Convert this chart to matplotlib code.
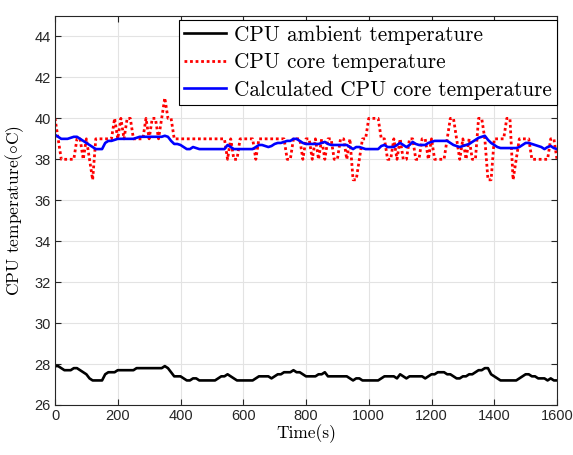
import numpy as np
import matplotlib
matplotlib.use("Agg")
import matplotlib.pyplot as plt

# Sample times (s), one reading every 10 s
time_s = np.arange(0, 1601, 10)

# CPU ambient temperature (°C)
ambient = [
    27.9, 27.9, 27.8, 27.7, 27.7, 27.7, 27.8, 27.8, 27.7, 27.6,   # 0-90
    27.5, 27.3, 27.2, 27.2, 27.2, 27.2, 27.5, 27.6, 27.6, 27.6,   # 100-190
    27.7, 27.7, 27.7, 27.7, 27.7, 27.7, 27.8, 27.8, 27.8, 27.8,   # 200-290
    27.8, 27.8, 27.8, 27.8, 27.8, 27.9, 27.8, 27.6, 27.4, 27.4,   # 300-390
    27.4, 27.3, 27.2, 27.2, 27.3, 27.3, 27.2, 27.2, 27.2, 27.2,   # 400-490
    27.2, 27.2, 27.3, 27.4, 27.4, 27.5, 27.4, 27.3, 27.2, 27.2,   # 500-590
    27.2, 27.2, 27.2, 27.2, 27.3, 27.4, 27.4, 27.4, 27.4, 27.3,   # 600-690
    27.4, 27.5, 27.5, 27.6, 27.6, 27.6, 27.7, 27.6, 27.6, 27.5,   # 700-790
    27.4, 27.4, 27.4, 27.4, 27.5, 27.5, 27.6, 27.4, 27.4, 27.4,   # 800-890
    27.4, 27.4, 27.4, 27.4, 27.3, 27.2, 27.3, 27.3, 27.2, 27.2,   # 900-990
    27.2, 27.2, 27.2, 27.2, 27.3, 27.4, 27.4, 27.4, 27.4, 27.3,   # 1000-1090
    27.5, 27.4, 27.3, 27.4, 27.4, 27.4, 27.4, 27.4, 27.3, 27.4,   # 1100-1190
    27.5, 27.5, 27.6, 27.6, 27.6, 27.5, 27.5, 27.4, 27.3, 27.3,   # 1200-1290
    27.4, 27.4, 27.5, 27.5, 27.6, 27.7, 27.7, 27.8, 27.8, 27.5,   # 1300-1390
    27.4, 27.3, 27.2, 27.2, 27.2, 27.2, 27.2, 27.2, 27.3, 27.4,   # 1400-1490
    27.5, 27.5, 27.4, 27.4, 27.3, 27.3, 27.3, 27.2, 27.3, 27.2,   # 1500-1590
    27.2,                                                         # 1600
]

# Measured CPU core temperature (°C)
core = [
    40, 39, 38, 38, 38, 38, 38, 39, 39, 38,   # 0-90
    39, 38, 37, 39, 39, 39, 39, 39, 39, 40,   # 100-190
    39, 40, 39, 40, 40, 39, 39, 39, 39, 40,   # 200-290
    39, 40, 40, 39, 40, 41, 40, 40, 39, 39,   # 300-390
    39, 39, 39, 39, 39, 39, 39, 39, 39, 39,   # 400-490
    39, 39, 39, 39, 39, 38, 39, 38, 38, 39,   # 500-590
    39, 39, 39, 39, 38, 39, 39, 39, 39, 39,   # 600-690
    39, 39, 39, 39, 38, 38, 39, 39, 39, 38,   # 700-790
    39, 39, 38, 39, 38, 39, 38, 39, 39, 38,   # 800-890
    38, 39, 39, 38, 39, 37, 37, 38, 39, 39,   # 900-990
    40, 40, 40, 40, 39, 39, 38, 38, 39, 38,   # 1000-1090
    39, 38, 38, 39, 39, 38, 38, 39, 39, 38,   # 1100-1190
    39, 38, 38, 38, 38, 39, 40, 40, 39, 38,   # 1200-1290
    39, 38, 39, 38, 38, 40, 40, 39, 37, 37,   # 1300-1390
    39, 39, 39, 39, 40, 40, 37, 38, 39, 39,   # 1400-1490
    39, 39, 38, 38, 38, 38, 38, 38, 39, 39,   # 1500-1590
    38,                                       # 1600
]

# Calculated CPU core temperature (°C)
calculated = [
    39.2, 39.1, 39.0, 39.0, 39.0, 39.05, 39.1, 39.1, 39.0, 38.9,     # 0-90
    38.8, 38.7, 38.6, 38.5, 38.5, 38.5, 38.8, 38.9, 38.9, 38.95,     # 100-190
    39.0, 39.0, 39.0, 39.0, 39.0, 39.0, 39.05, 39.1, 39.1, 39.1,     # 200-290
    39.1, 39.1, 39.1, 39.1, 39.1, 39.15, 39.1, 38.9, 38.75, 38.75,   # 300-390
    38.7, 38.6, 38.5, 38.5, 38.6, 38.55, 38.5, 38.5, 38.5, 38.5,     # 400-490
    38.5, 38.5, 38.5, 38.5, 38.5, 38.7, 38.6, 38.5, 38.5, 38.5,      # 500-590
    38.5, 38.5, 38.5, 38.5, 38.6, 38.7, 38.7, 38.65, 38.6, 38.65,    # 600-690
    38.75, 38.8, 38.8, 38.85, 38.9, 38.9, 39.0, 39.0, 38.9, 38.8,    # 700-790
    38.75, 38.75, 38.75, 38.75, 38.75, 38.8, 38.85, 38.75, 38.7, 38.7, # 800-890
    38.7, 38.7, 38.7, 38.7, 38.6, 38.5, 38.6, 38.6, 38.55, 38.5,     # 900-990
    38.5, 38.5, 38.5, 38.5, 38.65, 38.7, 38.6, 38.6, 38.6, 38.7,     # 1000-1090
    38.8, 38.7, 38.6, 38.7, 38.85, 38.75, 38.7, 38.7, 38.7, 38.8,    # 1100-1190
    38.85, 38.9, 38.9, 38.9, 38.9, 38.9, 38.8, 38.7, 38.65, 38.6,    # 1200-1290
    38.65, 38.7, 38.75, 38.85, 38.95, 39.05, 39.1, 39.15, 38.95, 38.8, # 1300-1390
    38.7, 38.6, 38.55, 38.55, 38.55, 38.55, 38.55, 38.55, 38.6, 38.7,  # 1400-1490
    38.8, 38.8, 38.75, 38.7, 38.65, 38.6, 38.5, 38.6, 38.65, 38.55,  # 1500-1590
    38.5,                                                            # 1600
]

series_labels = [
    "CPU ambient temperature",
    "CPU core temperature",
    "Calculated CPU core temperature",
]
x_ticks = list(range(0, 1601, 200))
y_ticks = list(range(26, 45, 2))

plt.rcParams["mathtext.fontset"] = "cm"
plt.rcParams["axes.unicode_minus"] = False

fig = plt.figure(figsize=(5.73, 4.55), dpi=100)
ax = fig.add_axes([55 / 573, 50 / 455, 502 / 573, 389 / 455])

ax.plot(time_s, ambient, color="black", lw=1.9, label=series_labels[0],
        solid_joinstyle="round")
ax.plot(time_s, core, color="#ff0000", lw=2.0, ls=(0, (1, 1.0)),
        label=series_labels[1])
ax.plot(time_s, calculated, color="#0000ff", lw=1.9, label=series_labels[2],
        solid_joinstyle="round")

ax.set_xlim(0, 1600)
ax.set_ylim(26, 45)
ax.set_xticks(x_ticks)
ax.set_yticks(y_ticks)
ax.tick_params(direction="in", top=True, right=True, length=4, width=0.8,
               labelsize=10.5, pad=3, colors="#262626")
for lbl in ax.get_xticklabels() + ax.get_yticklabels():
    lbl.set_fontfamily("Liberation Sans")

ax.grid(True, color="#e3e3e3", lw=0.8)
ax.set_axisbelow(True)
for sp in ax.spines.values():
    sp.set_color("#262626")
    sp.set_linewidth(0.8)

ax.set_xlabel("Time(s)", family="cmr10", fontsize=12.5, labelpad=1)
ax.set_ylabel(r"CPU temperature($\circ$C)", family="cmr10", fontsize=12.5,
              labelpad=6)

leg = ax.legend(loc="upper right", bbox_to_anchor=(1.0, 0.99),
                prop={"family": "cmr10", "size": 15.3},
                frameon=True, fancybox=False, framealpha=1,
                edgecolor="black", borderpad=0.25, labelspacing=0.38,
                handlelength=2.0, handletextpad=0.35, borderaxespad=0.0)
leg.get_frame().set_linewidth(0.8)

fig.savefig("out.png", dpi=100)
